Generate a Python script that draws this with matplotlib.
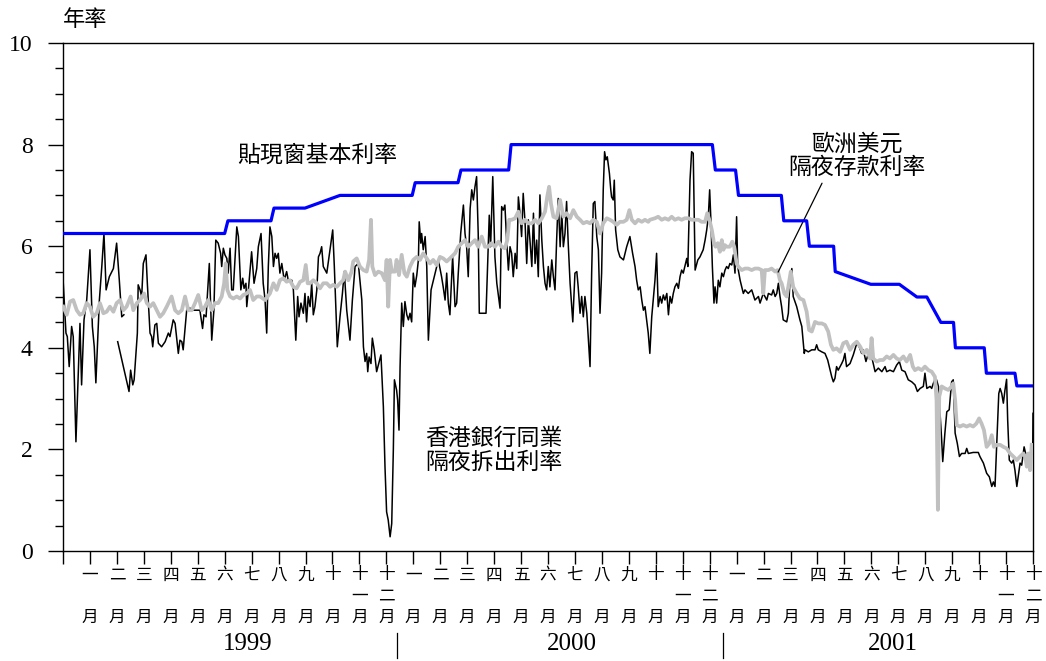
import numpy as np
import matplotlib
matplotlib.use('Agg')
import matplotlib.pyplot as plt

plt.rcParams['font.family'] = ['Noto Sans CJK TC', 'DejaVu Sans']
nan = np.nan

# x positions are months since start of Jan 1999 (0..36)
base_t = [0, 6.00, 6.12, 7.72, 7.83, 8.98, 10.28, 12.96, 13.07, 14.66, 14.77, 16.54, 16.63,
          24.10, 24.21, 24.96, 25.07, 26.66, 26.75, 27.60, 27.70, 28.60, 28.66, 29.98,
          31.04, 31.69, 32.06, 32.58, 33.05, 33.12, 34.19, 34.27, 35.33, 35.40, 36.0]
base_rate = [6.25, 6.25, 6.5, 6.5, 6.75, 6.75, 7.0, 7.0, 7.25, 7.25, 7.5, 7.5, 8.0,
             8.0, 7.5, 7.5, 7.0, 7.0, 6.5, 6.5, 6.0, 6.0, 5.5, 5.25,
             5.25, 5.0, 5.0, 4.5, 4.5, 4.0, 4.0, 3.5, 3.5, 3.25, 3.25]

hibor_t = [0.01, 0.11, 0.16, 0.23, 0.32, 0.38, 0.48, 0.63, 0.69, 0.78, 0.88, 1.00, 1.09, 1.16, 1.22,
           1.35, 1.44, 1.52, 1.60, 1.72, 1.87, 1.99, 2.09, 2.18, 2.26, nan,
           2.03, 2.45, 2.51, 2.59, 2.64, 2.76, 2.79, 2.86, 2.92, 2.98, 3.08, 3.13, 3.23, 3.29, 3.33,
           3.41, 3.48, 3.54, 3.66, 3.79, 3.91, 3.97, 4.09, 4.16, 4.28, 4.34, 4.41, 4.46, 4.59, 4.71,
           4.84, 5.08, 5.18, 5.23, 5.31, 5.43, 5.52, 5.60, 5.67, 5.76, 5.85, 5.89, 5.95, 6.01, 6.08,
           6.13, 6.20, 6.26, 6.32, 6.45, 6.51, 6.60, 6.67, 6.72, 6.79, 6.82, 6.88, 7.00, 7.09, 7.19,
           7.25, 7.35, 7.43, 7.50, 7.56, 7.62, 7.68, 7.75, 7.81, 7.87, 7.93, 7.99, 8.05, 8.12, 8.21,
           8.30, 8.36, 8.49, 8.55, 8.64, 8.71, 8.76, 8.83, 8.92, 8.98, 9.04, 9.10, 9.17, 9.23, 9.29,
           9.35, 9.42, 9.48, 9.54, 9.60, 9.66, 9.79, 9.91, 10.01, 10.07, 10.18, 10.28, 10.37, 10.44,
           10.53, 10.65, 10.74, 10.84, 10.96, 11.09, 11.15, 11.21, 11.27, 11.31, 11.36, 11.43, 11.48,
           11.55, 11.64, 11.80, 11.89, 11.95, 12.01, 12.07, 12.14, 12.20, 12.26, 12.30, 12.38, 12.42,
           12.47, 12.51, 12.57, 12.63, 12.69, 12.76, 12.82, 12.88, 12.94, 13.00, 13.06, 13.13, 13.19,
           13.22, 13.28, 13.31, 13.37, 13.44, 13.50, 13.56, 13.66, 13.81, 13.93, 14.05, 14.11, 14.18,
           14.24, 14.30, 14.36, 14.46, 14.55, 14.61, 14.67, 14.76, 14.86, 14.92, 14.98, 15.04, 15.11,
           15.17, 15.23, 15.29, 15.35, 15.41, 15.45, 15.70, 15.75, 15.82, 15.87, 15.95, 16.03, 16.10,
           16.22, 16.28, 16.34, 16.40, 16.47, 16.53, 16.59, 16.65, 16.71, 16.78, 16.84, 16.90, 16.96,
           17.02, 17.08, 17.15, 17.21, 17.27, 17.33, 17.40, 17.46, 17.52, 17.58, 17.64, 17.70, 17.77,
           17.83, 17.89, 17.95, 18.01, 18.07, 18.14, 18.20, 18.26, 18.32, 18.38, 18.45, 18.51, 18.57,
           18.63, 18.69, 18.75, 18.82, 18.92, 19.00, 19.07, 19.12, 19.19, 19.25, 19.31, 19.37, 19.44,
           19.56, 19.62, 19.68, 19.74, 19.81, 19.87, 19.93, 19.99, 20.05, 20.10, 20.15, 20.20, 20.28,
           20.33, 20.36, 20.42, 20.46, 20.51, 20.59, 20.67, 20.80, 20.92, 21.04, 21.14, 21.23, 21.29,
           21.35, 21.42, 21.48, 21.54, 21.60, 21.66, 21.72, 21.78, 21.85, 21.97, 22.03, 22.09, 22.16,
           22.22, 22.28, 22.34, 22.41, 22.47, 22.53, 22.59, 22.65, 22.71, 22.78, 22.84, 22.90, 22.96,
           23.02, 23.08, 23.15, 23.19, 23.27, 23.33, 23.39, 23.43, 23.46, 23.56, 23.64, 23.76, 23.83,
           23.89, 23.95, 24.00, 24.05, 24.10, 24.16, 24.20, 24.26, 24.32, 24.38, 24.45, 24.51, 24.57,
           24.63, 24.69, 24.75, 24.82, 24.88, 24.94, 25.00, 25.04, 25.13, 25.19, 25.25, 25.31, 25.43,
           25.56, 25.68, 25.81, 25.87, 25.99, 26.05, 26.12, 26.18, 26.30, 26.36, 26.43, 26.49, 26.55,
           26.61, 26.67, 26.73, 26.86, 26.92, 26.98, 27.05, 27.10, 27.23, 27.35, 27.42, 27.51, 27.54,
           27.66, 27.79, 27.91, 27.97, 28.03, 28.16, 28.28, 28.38, 28.47, 28.53, 28.59, 28.65, 28.71,
           28.77, 28.90, 28.96, 29.02, 29.08, 29.21, 29.33, 29.46, 29.55, 29.64, 29.70, 29.80, 29.89,
           30.01, 30.07, 30.14, 30.26, 30.39, 30.51, 30.57, 30.69, 30.82, 30.94, 31.04, 31.13, 31.25,
           31.37, 31.50, 31.62, 31.71, 31.81, 31.93, 31.99, 32.06, 32.18, 32.24, 32.30, 32.36, 32.42,
           32.49, 32.55, 32.61, 32.65, 32.73, 32.80, 32.89, 32.98, 33.04, 33.11, 33.19, 33.27, 33.35,
           33.48, 33.54, 33.60, 33.78, 33.97, 34.03, 34.16, 34.28, 34.38, 34.47, 34.53, 34.59, 34.65,
           34.73, 34.78, 34.84, 34.90, 34.96, 35.02, 35.06, 35.12, 35.21, 35.27, 35.33, 35.40, 35.52,
           35.58, 35.67, 35.74, 35.83, 35.92, 35.99, 36.00]
hibor_rate = [5.27, 4.29, 4.22, 3.63, 4.42, 4.22, 2.15, 4.48, 3.27, 4.55, 4.94, 5.93, 4.42, 4.02, 3.31,
              4.94, 5.60, 6.25, 5.14, 5.40, 5.56, 6.06, 5.33, 4.61, 4.65, nan,
              4.12, 3.14, 3.56, 3.27, 3.37, 4.29, 5.24, 5.14, 5.01, 5.66, 5.83, 5.27, 4.29, 4.22, 4.02,
              4.45, 4.48, 4.09, 4.02, 4.12, 4.29, 4.22, 4.55, 4.48, 3.89, 4.15, 4.12, 3.96, 4.74, 4.78,
              4.74, 4.74, 4.38, 4.65, 4.61, 5.66, 4.15, 4.74, 6.12, 6.06, 5.86, 5.60, 5.96, 5.83, 5.76,
              5.47, 5.96, 5.14, 5.14, 6.38, 6.19, 5.14, 5.37, 5.17, 5.27, 4.81, 5.14, 5.89, 5.27, 5.56,
              5.99, 6.25, 5.27, 4.94, 4.29, 5.60, 6.38, 6.19, 5.60, 5.86, 5.76, 5.86, 5.47, 5.66, 5.33,
              5.50, 5.33, 5.33, 5.14, 4.15, 5.01, 4.61, 4.88, 4.68, 5.07, 4.51, 5.01, 4.81, 5.27, 4.65,
              4.81, 5.14, 5.79, 5.86, 5.99, 5.60, 5.47, 5.93, 6.32, 5.60, 4.02, 4.61, 5.07, 5.50,
              4.74, 4.15, 4.94, 5.60, 5.66, 4.94, 4.02, 3.73, 3.89, 3.53, 3.82, 3.69, 4.19,
              3.96, 3.53, 3.86, 2.84, 1.66, 0.77, 0.61, 0.28, 0.54, 1.99, 3.37, 3.17, 2.97,
              2.38, 3.63, 4.88, 4.42, 4.91, 4.65, 4.55, 4.68, 4.51, 5.47, 5.20, 5.43, 5.73,
              6.48, 6.06, 6.25, 5.93, 6.19, 5.60, 4.15, 5.14, 5.47, 5.73, 5.40, 5.20, 4.94,
              5.47, 4.88, 4.65, 5.80, 4.81, 4.88, 5.47, 6.25, 6.81, 6.25, 5.99, 5.40, 6.74,
              7.11, 6.91, 7.17, 7.37, 6.25, 4.68, 4.68, 5.47, 6.61, 5.99, 7.37, 5.79, 5.27,
              4.78, 6.78, 6.71, 6.81, 6.06, 5.53, 5.99, 5.86, 5.40, 5.86, 5.56, 6.97, 6.65,
              6.19, 7.04, 6.45, 5.66, 6.52, 6.12, 5.60, 6.65, 5.66, 6.12, 5.40, 7.01, 6.12,
              5.60, 5.27, 5.14, 5.60, 5.20, 5.73, 5.40, 5.14, 6.12, 6.94, 5.99, 6.68, 5.99,
              6.25, 6.88, 6.06, 5.27, 4.51, 5.47, 5.50, 5.20, 4.68, 5.01, 4.61, 5.01, 4.68,
              3.63, 5.47, 6.84, 6.88, 6.19, 5.93, 4.68, 5.47, 7.11, 7.86, 7.70, 7.76, 7.43,
              7.11, 6.97, 6.91, 7.30, 6.32, 5.93, 5.79, 5.73, 5.99, 6.19, 5.86, 5.60, 5.33,
              5.14, 5.20, 4.94, 4.74, 4.81, 4.55, 4.29, 3.89, 4.61, 5.33, 5.86, 4.81, 5.01,
              4.88, 5.04, 4.94, 5.07, 4.65, 5.01, 4.88, 5.07, 5.20, 5.27, 5.17, 5.40, 5.53,
              5.47, 5.60, 5.76, 5.60, 7.30, 7.86, 7.83, 6.45, 5.53, 5.73, 5.79, 5.93, 6.12,
              6.32, 6.58, 7.11, 6.45, 5.60, 4.88, 5.20, 4.88, 5.33, 5.20, 5.47, 5.40, 5.53,
              5.60, 5.56, 5.66, 5.63, 5.83, 5.47, 6.58, 5.60, 5.33, 5.20, 5.07, 5.14, 5.07,
              5.14, 4.94, 5.01, 4.88, 5.07, 5.01, 4.94, 5.07, 5.04, 5.14, 5.01, 5.07, 5.27,
              5.01, 4.81, 4.55, 4.51, 4.68, 5.33, 5.56, 5.01, 4.81, 4.55, 4.42, 3.89, 3.96,
              3.92, 3.96, 3.96, 4.06, 3.96, 3.92, 3.89, 3.76, 3.56, 3.43, 3.33, 3.40, 3.63,
              3.56, 3.69, 3.76, 3.89, 3.63, 3.69, 3.86, 4.09, 4.02, 3.89, 3.96, 3.73, 3.89,
              3.83, 3.69, 3.53, 3.60, 3.53, 3.63, 3.53, 3.56, 3.53, 3.66, 3.73, 3.56, 3.53,
              3.37, 3.33, 3.27, 3.14, 3.20, 3.24, 3.50, 3.20, 3.24, 3.20, 3.30, 3.37, 3.37,
              3.24, 2.71, 2.19, 1.76, 2.32, 2.74, 2.78, 3.33, 3.37, 2.32, 2.12, 1.86, 1.92,
              1.92, 2.02, 1.92, 1.94, 1.94, 1.86, 1.73, 1.53, 1.46, 1.27, 1.36, 1.27, 2.05,
              3.10, 3.20, 3.10, 2.91, 3.17, 3.38, 2.58, 1.79, 1.73, 1.79, 1.59, 1.27, 1.73,
              1.69, 2.05, 1.89, 1.79, 1.86, 1.99, 2.71]

euro_t = [0.01, 0.14, 0.26, 0.38, 0.51, 0.63, 0.75, 0.88, 1.00, 1.12, 1.25, 1.37, 1.50, 1.62, 1.74,
          1.87, 1.99, 2.12, 2.24, 2.36, 2.51, 2.61, 2.74, 2.86, 3.01, 3.11, 3.23, 3.35, 3.48, 3.60,
          3.72, 3.85, 4.03, 4.16, 4.28, 4.41, 4.53, 4.65, 4.78, 4.90, 5.02, 5.15, 5.27, 5.39, 5.52,
          5.64, 5.76, 5.89, 5.98, 6.04, 6.10, 6.20, 6.32, 6.45, 6.57, 6.69, 6.82, 6.94, 7.06, 7.19,
          7.31, 7.50, 7.68, 7.81, 7.93, 8.05, 8.18, 8.30, 8.42, 8.55, 8.67, 8.80, 8.92, 9.01, 9.08,
          9.17, 9.29, 9.42, 9.54, 9.66, 9.79, 9.91, 10.03, 10.16, 10.28, 10.40, 10.47, 10.59, 10.71,
          10.77, 10.90, 11.02, 11.15, 11.27, 11.36, 11.43, 11.48, 11.58, 11.70, 11.83, 11.95, 12.01,
          12.07, 12.14, 12.20, 12.32, 12.38, 12.47, 12.57, 12.67, 12.76, 12.88, 13.00, 13.13, 13.25,
          13.37, 13.50, 13.62, 13.74, 13.87, 13.99, 14.11, 14.24, 14.36, 14.55, 14.67, 14.80, 14.92,
          15.04, 15.17, 15.29, 15.41, 15.54, 15.66, 15.78, 15.91, 16.03, 16.16, 16.28, 16.40, 16.49,
          16.56, 16.65, 16.78, 16.90, 17.02, 17.15, 17.27, 17.40, 17.52, 17.64, 17.77, 17.89, 17.97,
          18.04, 18.11, 18.20, 18.32, 18.45, 18.57, 18.69, 18.82, 18.94, 19.07, 19.19, 19.31, 19.44,
          19.56, 19.68, 19.81, 19.93, 20.05, 20.18, 20.30, 20.42, 20.55, 20.67, 20.80, 20.92, 21.02,
          21.11, 21.23, 21.35, 21.48, 21.60, 21.72, 21.78, 21.97, 22.09, 22.22, 22.34, 22.47, 22.59,
          22.71, 22.84, 22.96, 23.08, 23.21, 23.33, 23.46, 23.58, 23.70, 23.83, 23.91, 24.01, 24.08,
          24.16, 24.22, 24.30, 24.38, 24.45, 24.51, 24.57, 24.63, 24.75, 24.84, 24.91, 25.00, 25.06,
          25.19, 25.31, 25.43, 25.56, 25.68, 25.81, 25.93, 25.99, 26.05, 26.18, 26.30, 26.43, 26.52,
          26.61, 26.67, 26.77, 26.86, 26.94, 27.01, 27.10, 27.23, 27.35, 27.48, 27.60, 27.69, 27.79,
          27.91, 28.03, 28.16, 28.28, 28.40, 28.50, 28.59, 28.71, 28.84, 28.96, 29.08, 29.21, 29.33,
          29.46, 29.59, 29.71, 29.83, 29.95, 30.01, 30.07, 30.20, 30.32, 30.44, 30.57, 30.69, 30.82,
          30.94, 31.06, 31.19, 31.31, 31.44, 31.54, 31.62, 31.74, 31.87, 31.99, 32.12, 32.24, 32.36,
          32.42, 32.47, 32.52, 32.61, 32.73, 32.86, 32.98, 33.04, 33.11, 33.17, 33.29, 33.41, 33.54,
          33.66, 33.78, 33.90, 34.00, 34.09, 34.18, 34.28, 34.38, 34.47, 34.55, 34.65, 34.78, 34.90,
          35.02, 35.15, 35.27, 35.40, 35.52, 35.64, 35.71, 35.77, 35.83, 35.89, 35.95]
euro_rate = [4.81, 4.65, 4.91, 4.94, 4.74, 4.65, 4.68, 4.88, 4.81, 4.61, 4.68, 4.88, 4.68, 4.71, 4.81,
             4.71, 4.88, 4.94, 4.74, 4.81, 5.01, 4.74, 4.88, 4.94, 5.07, 4.88, 4.81, 4.88, 4.74, 4.61,
             4.68, 4.81, 5.01, 4.74, 4.68, 4.74, 5.01, 4.74, 4.74, 4.88, 5.04, 4.74, 4.81, 4.94, 4.74,
             4.88, 4.88, 5.01, 5.27, 5.66, 5.14, 5.01, 4.97, 5.01, 4.97, 5.04, 5.07, 5.14, 4.94, 5.01,
             5.01, 4.94, 5.07, 5.27, 5.14, 5.33, 5.37, 5.30, 5.33, 5.20, 5.17, 5.30, 5.33, 5.63, 5.27,
             5.27, 5.33, 5.27, 5.17, 5.27, 5.27, 5.20, 5.24, 5.20, 5.27, 5.33, 5.50, 5.33, 5.50,
             5.70, 5.76, 5.60, 5.53, 5.50, 5.73, 6.52, 5.60, 5.43, 5.50, 5.47, 5.33, 5.73,
             4.81, 5.73, 5.50, 5.50, 5.73, 5.43, 5.83, 5.47, 5.40, 5.60, 5.73, 5.79, 5.73,
             5.86, 5.76, 5.66, 5.73, 5.63, 5.79, 5.76, 5.70, 5.76, 5.86, 5.99, 6.06, 6.12,
             5.99, 6.06, 6.12, 5.99, 6.19, 5.99, 5.99, 6.06, 5.99, 6.09, 5.99, 5.96, 6.12,
             6.52, 6.52, 6.55, 6.68, 6.45, 6.52, 6.45, 6.45, 6.52, 6.45, 6.55, 6.68, 6.97,
             7.17, 6.84, 6.58, 6.55, 6.91, 6.58, 6.65, 6.55, 6.71, 6.58, 6.52, 6.45, 6.48,
             6.45, 6.52, 6.48, 6.25, 6.45, 6.55, 6.52, 6.48, 6.42, 6.48, 6.48, 6.52, 6.71,
             6.52, 6.45, 6.52, 6.48, 6.52, 6.48, 6.52, 6.55, 6.58, 6.52, 6.55, 6.52, 6.58,
             6.52, 6.55, 6.52, 6.55, 6.55, 6.52, 6.52, 6.52, 6.48, 6.48, 6.65, 6.48, 6.32,
             6.06, 5.99, 6.06, 5.89, 6.12, 5.93, 6.02, 5.99, 5.99, 6.09, 5.99, 5.66, 5.60,
             5.53, 5.56, 5.56, 5.53, 5.56, 5.56, 5.53, 5.07, 5.53, 5.53, 5.56, 5.50, 5.53,
             5.33, 5.27, 5.07, 5.01, 5.27, 5.50, 5.20, 5.07, 4.97, 4.94, 4.71, 4.35, 4.32,
             4.51, 4.48, 4.48, 4.45, 4.32, 4.06, 3.96, 3.99, 3.92, 4.09, 4.12, 3.96, 4.06,
             4.12, 4.02, 3.89, 3.96, 3.79, 4.19, 3.79, 3.73, 3.76, 3.76, 3.83, 3.79, 3.86,
             3.79, 3.76, 3.83, 3.73, 3.86, 3.63, 3.56, 3.60, 3.56, 3.63, 3.56, 3.53, 3.43,
             2.97, 0.81, 3.04, 3.24, 3.20, 3.17, 3.24, 3.30, 2.97, 2.48, 2.45, 2.48, 2.45,
             2.48, 2.45, 2.51, 2.61, 2.51, 2.38, 2.05, 2.12, 2.28, 2.05, 2.09, 2.09, 2.05,
             2.02, 1.92, 1.86, 1.79, 1.86, 1.92, 1.86, 1.66, 1.92, 1.59, 2.09]

month_names = ['一', '二', '三', '四', '五', '六', '七', '八', '九', '十', '十一', '十二'] * 3
years = ['1999', '2000', '2001']
year_pos = [6.86, 18.88, 30.80]
year_breaks = [12.38, 24.48]

fig = plt.figure(figsize=(10.46, 6.61), dpi=100)
ax = fig.add_axes([63 / 1046, 1 - 551 / 661, 970 / 1046, 508 / 661])

ax.plot(hibor_t, hibor_rate, color='black', lw=1.1, zorder=2)
ax.plot(euro_t, euro_rate, color='#c0c0c0', lw=2.7, zorder=3)
ax.plot(base_t, base_rate, color='#0000ff', lw=2.3, zorder=4)

ax.set_xlim(0, 36)
ax.set_ylim(0, 10)
ax.set_yticks(range(0, 11, 2))
ax.set_yticks(np.arange(0, 10.01, 0.5), minor=True)
ax.set_yticklabels([str(v) for v in range(0, 11, 2)], family='Liberation Serif', fontsize=17)
ax.tick_params(axis='y', which='major', length=10.8, width=1, pad=11)
ax.tick_params(axis='y', which='minor', length=5.8, width=1)
ax.set_xticks(range(37))
ax.set_xticklabels([])
ax.tick_params(axis='x', length=9.4, width=1, direction='out')
for s in ax.spines.values():
    s.set_linewidth(1.0)

# stacked month labels under each tick
trans = ax.get_xaxis_transform()
rows = [-0.0472, -0.0886, -0.1299]
for i, name in enumerate(month_names):
    ax.text(i + 1, rows[0], name[0], transform=trans, ha='center', va='center', fontsize=12)
    if len(name) > 1:
        ax.text(i + 1, rows[1], name[1], transform=trans, ha='center', va='center', fontsize=12)
    ax.text(i + 1, rows[2], '月', transform=trans, ha='center', va='center', fontsize=12)

for yr, xp in zip(years, year_pos):
    ax.text(xp, -0.1831, yr, transform=trans, ha='center', va='center',
            family='Liberation Serif', fontsize=18)
for b in year_breaks:
    ax.axvline(b, ymin=-0.2106, ymax=-0.1614, color='black', lw=0.9, clip_on=False)

ax.text(0, 1.047, '年率', transform=ax.transAxes, ha='left', va='center', fontsize=16)

ax.text(9.42, 7.80, '貼現窗基本利率', ha='center', va='center', fontsize=16.5)
ax.text(15.98, 2.215, '香港銀行同業', ha='center', va='center', fontsize=16.5)
ax.text(15.98, 1.75, '隔夜拆出利率', ha='center', va='center', fontsize=16.5)
ax.text(29.46, 8.01, '歐洲美元', ha='center', va='center', fontsize=16.5)
ax.text(29.46, 7.55, '隔夜存款利率', ha='center', va='center', fontsize=16.5)
ax.annotate('', xy=(26.54, 5.49), xytext=(28.17, 7.24),
            arrowprops=dict(arrowstyle='-', color='black', lw=0.9, shrinkA=0, shrinkB=0))

fig.savefig('out.png', dpi=100)
